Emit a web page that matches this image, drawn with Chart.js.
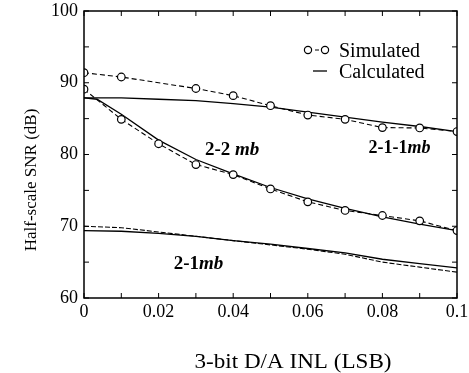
<!DOCTYPE html>
<html>
<head>
<meta charset="utf-8">
<script src="https://cdn.jsdelivr.net/npm/chart.js@4.4.0/dist/chart.umd.min.js"></script>
<style>
  html, body { margin: 0; padding: 0; background: #fff; }
  #wrap { width: 469px; height: 373px; }
</style>
</head>
<body>
<div id="wrap"><canvas id="c"></canvas></div>
<script>
// --- data ---
const inlX      = [0, 0.01, 0.02, 0.03, 0.04, 0.05, 0.06, 0.07, 0.08, 0.09, 0.1];

// 2-1-1mb
const sim211X   = [0, 0.01, 0.03, 0.04, 0.05, 0.06, 0.07, 0.08, 0.09, 0.1];
const sim211Y   = [91.4, 90.8, 89.2, 88.2, 86.8, 85.5, 84.9, 83.75, 83.7, 83.2];
const calc211Y  = [87.9, 87.9, 87.7, 87.5, 87.1, 86.6, 85.9, 85.2, 84.5, 83.9, 83.2];

// 2-2 mb
const sim22Y    = [89.1, 84.9, 81.5, 78.6, 77.2, 75.2, 73.4, 72.2, 71.5, 70.75, 69.4];
const calc22X   = [0, 0.0035, 0.01, 0.02, 0.03, 0.04, 0.05, 0.06, 0.07, 0.08, 0.09, 0.1];
const calc22Y   = [87.9, 87.7, 85.6, 82.0, 79.3, 77.3, 75.4, 73.8, 72.5, 71.3, 70.3, 69.4];

// 2-1mb
const sim21Y    = [70.0, 69.8, 69.2, 68.6, 68.0, 67.4, 66.8, 66.1, 65.0, 64.3, 63.6];
const calc21Y   = [69.4, 69.3, 69.0, 68.6, 68.0, 67.5, 66.9, 66.3, 65.4, 64.8, 64.2];

const xTickLabels = ['0', '0.02', '0.04', '0.06', '0.08', '0.1'];
const yTickLabels = ['60', '70', '80', '90', '100'];
const legendLabels = ['Simulated', 'Calculated'];

const SERIF = "'Liberation Serif', 'Times New Roman', serif";

const pts = (xs, ys) => xs.map((x, i) => ({ x: x, y: ys[i] }));

const simStyle = {
    showLine: true,
    borderColor: '#000',
    borderWidth: 1.1,
    borderDash: [5, 3],
    pointRadius: 3.8,
    pointBackgroundColor: '#fff',
    pointBorderColor: '#000',
    pointBorderWidth: 1.2,
    order: 0,
};
const calcStyle = {
    showLine: true,
    borderColor: '#000',
    borderWidth: 1.3,
    pointRadius: 0,
    order: 1,
};

// --- frame, inward ticks, titles, legend, curve labels ---
const decor = {
    id: 'decor',
    afterDatasetsDraw(chart) {
        const { ctx, chartArea: a, scales: { x, y } } = chart;
        ctx.save();
        ctx.strokeStyle = '#000';
        ctx.lineWidth = 1.5;
        ctx.strokeRect(a.left, a.top, a.right - a.left, a.bottom - a.top);

        ctx.lineWidth = 1;
        ctx.beginPath();
        for (let i = 0; i <= 10; i++) {
            const px = x.getPixelForValue(i / 100);
            ctx.moveTo(px, a.bottom); ctx.lineTo(px, a.bottom - 5);
            ctx.moveTo(px, a.top);    ctx.lineTo(px, a.top + 5);
        }
        for (let v = 60; v <= 100; v += 5) {
            const py = y.getPixelForValue(v);
            ctx.moveTo(a.left, py);  ctx.lineTo(a.left + 5, py);
            ctx.moveTo(a.right, py); ctx.lineTo(a.right - 5, py);
        }
        ctx.stroke();

        // axis titles
        ctx.fillStyle = '#000';
        ctx.textAlign = 'center';
        ctx.textBaseline = 'middle';
        ctx.save();
        ctx.translate(293, 362);
        ctx.scale(1.1, 1);
        ctx.font = '21px ' + SERIF;
        ctx.fillText('3-bit D/A INL (LSB)', 0, 0);
        ctx.restore();
        ctx.save();
        ctx.translate(32, 180);
        ctx.rotate(-Math.PI / 2);
        ctx.font = '17px ' + SERIF;
        ctx.fillText('Half-scale SNR (dB)', 0, 0);
        ctx.restore();

        // legend
        ctx.textAlign = 'left';
        ctx.textBaseline = 'alphabetic';
        ctx.font = '20px ' + SERIF;
        ctx.setLineDash([4, 3]);
        ctx.lineWidth = 1.1;
        ctx.beginPath(); ctx.moveTo(308, 50); ctx.lineTo(325, 50); ctx.stroke();
        ctx.setLineDash([]);
        [308, 325].forEach(cx => {
            ctx.beginPath(); ctx.arc(cx, 50, 3.6, 0, Math.PI * 2);
            ctx.fillStyle = '#fff'; ctx.fill();
            ctx.lineWidth = 1.2; ctx.stroke();
        });
        ctx.fillStyle = '#000';
        ctx.fillText(legendLabels[0], 339, 57);
        ctx.lineWidth = 1.3;
        ctx.beginPath(); ctx.moveTo(313, 71); ctx.lineTo(327, 71); ctx.stroke();
        ctx.fillText(legendLabels[1], 339, 78);

        // curve labels: upright bold part + bold italic "mb"
        const tag = (plain, ital, vx, vy, size) => {
            const px = x.getPixelForValue(vx), py = y.getPixelForValue(vy);
            ctx.font = 'bold ' + size + 'px ' + SERIF;
            const w1 = ctx.measureText(plain).width;
            ctx.font = 'italic bold ' + size + 'px ' + SERIF;
            const w2 = ctx.measureText(ital).width;
            let sx = px - (w1 + w2) / 2;
            ctx.textBaseline = 'middle';
            ctx.font = 'bold ' + size + 'px ' + SERIF;
            ctx.fillText(plain, sx, py);
            ctx.font = 'italic bold ' + size + 'px ' + SERIF;
            ctx.fillText(ital, sx + w1, py);
        };
        tag('2-2 ', 'mb', 0.0397, 80.6, 19);
        tag('2-1-1', 'mb', 0.0846, 80.8, 18);
        tag('2-1', 'mb', 0.0307, 64.7, 19);
        ctx.restore();
    }
};

new Chart(document.getElementById('c'), {
    type: 'scatter',
    data: {
        datasets: [
            Object.assign({ label: 'calc 2-1-1mb', data: pts(inlX, calc211Y) }, calcStyle),
            Object.assign({ label: 'calc 2-2mb',   data: pts(calc22X, calc22Y) }, calcStyle),
            Object.assign({ label: 'calc 2-1mb',   data: pts(inlX, calc21Y) }, calcStyle),
            Object.assign({ label: 'sim 2-1mb',    data: pts(inlX, sim21Y) }, simStyle, { pointRadius: 0, borderDash: [5, 2] }),
            Object.assign({ label: 'sim 2-2mb',    data: pts(inlX, sim22Y) }, simStyle),
            Object.assign({ label: 'sim 2-1-1mb',  data: pts(sim211X, sim211Y) }, simStyle),
        ]
    },
    options: {
        responsive: true,
        maintainAspectRatio: false,
        animation: false,
        layout: { padding: { left: 0, top: 11, right: 12, bottom: 0 } },
        plugins: { legend: { display: false }, tooltip: { enabled: false } },
        scales: {
            x: {
                type: 'linear',
                min: 0, max: 0.1,
                grid: { display: false, drawTicks: false },
                border: { display: false },
                ticks: {
                    stepSize: 0.02,
                    color: '#000',
                    padding: 3,
                    maxRotation: 0,
                    font: { family: SERIF, size: 18 },
                    callback: (v, i) => xTickLabels[i]
                },
                afterFit: s => { s.height = 75; s.paddingLeft = 0; s.paddingRight = 0; }
            },
            y: {
                type: 'linear',
                min: 60, max: 100,
                grid: { display: false, drawTicks: false },
                border: { display: false },
                ticks: {
                    stepSize: 10,
                    color: '#000',
                    padding: 6,
                    font: { family: SERIF, size: 18 },
                    callback: (v, i) => yTickLabels[i]
                },
                afterFit: s => { s.width = 84; s.paddingTop = 0; s.paddingBottom = 0; }
            }
        }
    },
    plugins: [decor]
});
</script>
</body>
</html>
